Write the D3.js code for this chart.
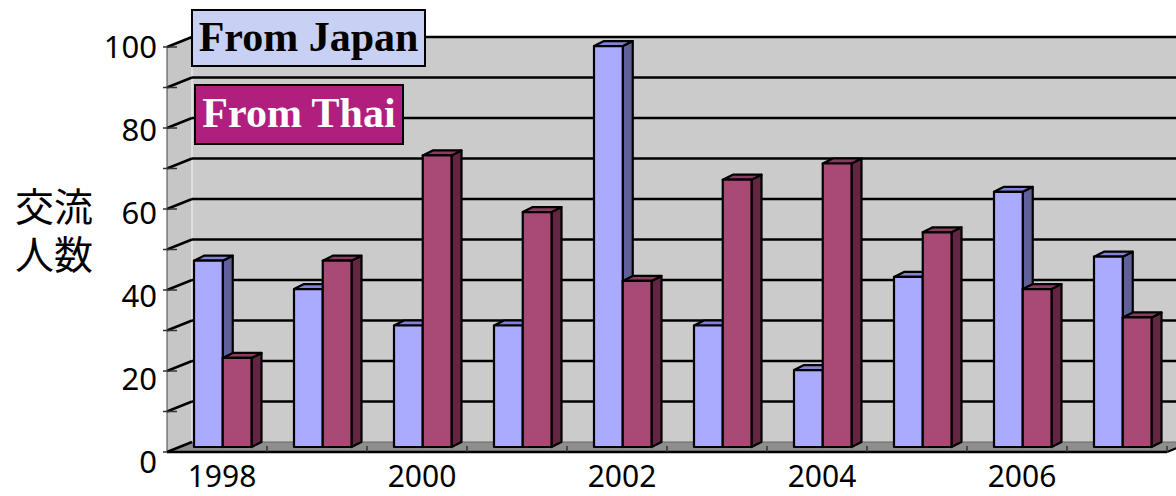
<!DOCTYPE html>
<html>
<head>
<meta charset="utf-8">
<script src="https://cdn.jsdelivr.net/npm/d3@7"></script>
<style>
  html, body { margin: 0; padding: 0; background: #ffffff; }
  svg { display: block; }
</style>
</head>
<body>
<svg id="chart" width="1176" height="496"></svg>
<script>
// ---- data ----
const years = [1998, 1999, 2000, 2001, 2002, 2003, 2004, 2005, 2006, 2007];
const yearLabels = ["1998", "", "2000", "", "2002", "", "2004", "", "2006", ""];
const seriesNames = ["From Japan", "From Thai"];
const fromJapan = [46, 39, 30, 30, 99, 30, 19, 42, 63, 47];
const fromThai  = [22, 46, 72, 58, 41, 66, 70, 53, 39, 32];
const yTickValues = [0, 20, 40, 60, 80, 100];
const yGridValues = [0, 10, 20, 30, 40, 50, 60, 70, 80, 90, 100];
const yTitle = ["交流", "人数"];

// ---- geometry ----
const svg = d3.select("#chart");
const DX = 25, DY = -10;          // wall depth
const BDX = 10, BDY = -5;         // bar depth
const x = d3.scaleBand().domain(years).range([167, 1167]).paddingInner(0).paddingOuter(0);
const sub = d3.scaleBand().domain(seriesNames).range([14.5, 72]).padding(0);
const yFront = d3.scaleLinear().domain([0, 100]).range([452, 47]);
const yBack = v => yFront(v) + DY;
const yBar = v => yFront(v) + DY / 2;
const yLabel = d3.scaleLinear().domain([0, 100]).range([462, 47]);

const x0 = x.range()[0], x1 = x.range()[1];

// back wall
svg.append("polygon")
  .attr("points", [[x0 + DX, yBack(100)], [1200, yBack(100)], [1200, yBack(0)], [x0 + DX, yBack(0)]].join(" "))
  .attr("fill", "#cbcbcb");
// left wall
svg.append("polygon")
  .attr("points", [[x0, yFront(0)], [x0, yFront(100)], [x0 + DX, yBack(100)], [x0 + DX, yBack(0)]].join(" "))
  .attr("fill", "#c6c6c6");
svg.append("line")
  .attr("x1", x0 + DX).attr("x2", x0 + DX)
  .attr("y1", yBack(100)).attr("y2", yBack(0))
  .attr("stroke", "#e6e6e6").attr("stroke-width", 1.5);
// floor
svg.append("polygon")
  .attr("points", [[x0, yFront(0)], [x1, yFront(0)], [x1 + DX, yBack(0)], [x0 + DX, yBack(0)]].join(" "))
  .attr("fill", "#8e8e8e");

// gridlines on back wall
svg.append("g").selectAll("line").data(yGridValues.filter(v => v > 0)).join("line")
  .attr("x1", x0 + DX).attr("x2", 1200)
  .attr("y1", d => yBack(d)).attr("y2", d => yBack(d))
  .attr("stroke", "#000").attr("stroke-width", 2.5);
// gridlines on left wall
svg.append("g").selectAll("line").data(yGridValues).join("line")
  .attr("x1", x0).attr("x2", x0 + DX)
  .attr("y1", d => yFront(d)).attr("y2", d => yBack(d))
  .attr("stroke", "#000").attr("stroke-width", 2.5);
// front axis line and ticks
svg.append("line")
  .attr("x1", x0).attr("x2", x0).attr("y1", yFront(0)).attr("y2", yFront(100))
  .attr("stroke", "#444").attr("stroke-width", 1);
svg.append("g").selectAll("line").data(yGridValues).join("line")
  .attr("x1", x0 - 4).attr("x2", x0 + 10)
  .attr("y1", d => yFront(d)).attr("y2", d => yFront(d))
  .attr("stroke", "#333").attr("stroke-width", 1.5);

// floor edges
svg.append("line")
  .attr("x1", x0).attr("x2", x1).attr("y1", yFront(0)).attr("y2", yFront(0))
  .attr("stroke", "#000").attr("stroke-width", 2.5);
svg.append("line")
  .attr("x1", x1).attr("x2", x1 + DX).attr("y1", yFront(0)).attr("y2", yBack(0))
  .attr("stroke", "#000").attr("stroke-width", 2);
svg.append("line")
  .attr("x1", x0 + DX).attr("x2", 1200).attr("y1", yBack(0)).attr("y2", yBack(0))
  .attr("stroke", "#666").attr("stroke-width", 1);
// category ticks on floor
svg.append("g").selectAll("line").data(years.slice(1).concat(["end"])).join("line")
  .attr("x1", d => d === "end" ? x1 : x(d)).attr("x2", d => d === "end" ? x1 : x(d))
  .attr("y1", yFront(0)).attr("y2", yFront(0) - 6)
  .attr("stroke", "#333").attr("stroke-width", 1.5);

// bars
const seriesData = [
  { name: "From Japan", values: fromJapan, front: "#aaaaff", side: "#60609a", top: "#8282d6" },
  { name: "From Thai",  values: fromThai,  front: "#a94a76", side: "#622642", top: "#8a3c62" }
];
const barW = sub.bandwidth();
const bars = [];
years.forEach((yr, i) => {
  seriesData.forEach(s => {
    bars.push({ yr, v: s.values[i], s });
  });
});
const gBars = svg.append("g");
bars.forEach(b => {
  const bx = x(b.yr) + DX / 2 + sub(b.s.name);
  const by = yBar(b.v);
  const bb = yBar(0);
  const g = gBars.append("g").attr("stroke", "#000").attr("stroke-width", 2.2).attr("stroke-linejoin", "round");
  // side
  g.append("polygon")
    .attr("points", [[bx + barW, bb], [bx + barW, by], [bx + barW + BDX, by + BDY], [bx + barW + BDX, bb + BDY]].join(" "))
    .attr("fill", b.s.side);
  // top
  g.append("polygon")
    .attr("points", [[bx, by], [bx + barW, by], [bx + barW + BDX, by + BDY], [bx + BDX, by + BDY]].join(" "))
    .attr("fill", b.s.top);
  // front
  g.append("rect")
    .attr("x", bx).attr("y", by).attr("width", barW).attr("height", bb - by)
    .attr("fill", b.s.front);
});

// y tick labels
svg.append("g").selectAll("text").data(yTickValues).join("text")
  .attr("x", 157).attr("y", d => yLabel(d))
  .attr("dy", "0.36em")
  .attr("text-anchor", "end")
  .attr("font-family", "'Noto Sans', sans-serif")
  .attr("font-size", 31)
  .attr("fill", "#000")
  .text(d => d);

// x labels
svg.append("g").selectAll("text").data(years).join("text")
  .attr("x", d => x(d) + x.bandwidth() / 2 + 5)
  .attr("y", 487)
  .attr("text-anchor", "middle")
  .attr("font-family", "'Noto Sans', sans-serif")
  .attr("font-size", 30)
  .attr("fill", "#000")
  .text((d, i) => yearLabels[i]);

// y title (two lines)
svg.append("g").selectAll("text").data(yTitle).join("text")
  .attr("x", 15).attr("y", (d, i) => 221 + i * 48)
  .attr("font-family", "'Noto Sans CJK JP', sans-serif")
  .attr("font-size", 39)
  .attr("fill", "#000")
  .text(d => d);

// legend boxes
const legendSpec = [
  { name: seriesNames[0], x: 192, y: 10, w: 233, h: 56, fill: "#c8d0f4", color: "#000", ty: 51 },
  { name: seriesNames[1], x: 195, y: 85, w: 208, h: 59, fill: "#b01f7e", color: "#fff", ty: 127 }
];
legendSpec.forEach(l => {
  svg.append("rect")
    .attr("x", l.x).attr("y", l.y).attr("width", l.w).attr("height", l.h)
    .attr("fill", l.fill).attr("stroke", "#000").attr("stroke-width", 2);
  svg.append("text")
    .attr("x", l.x + l.w / 2).attr("y", l.ty)
    .attr("text-anchor", "middle")
    .attr("font-family", "'Liberation Serif', 'Times New Roman', serif")
    .attr("font-weight", "bold")
    .attr("font-size", 42)
    .attr("fill", l.color)
    .text(l.name);
});
</script>
</body>
</html>
